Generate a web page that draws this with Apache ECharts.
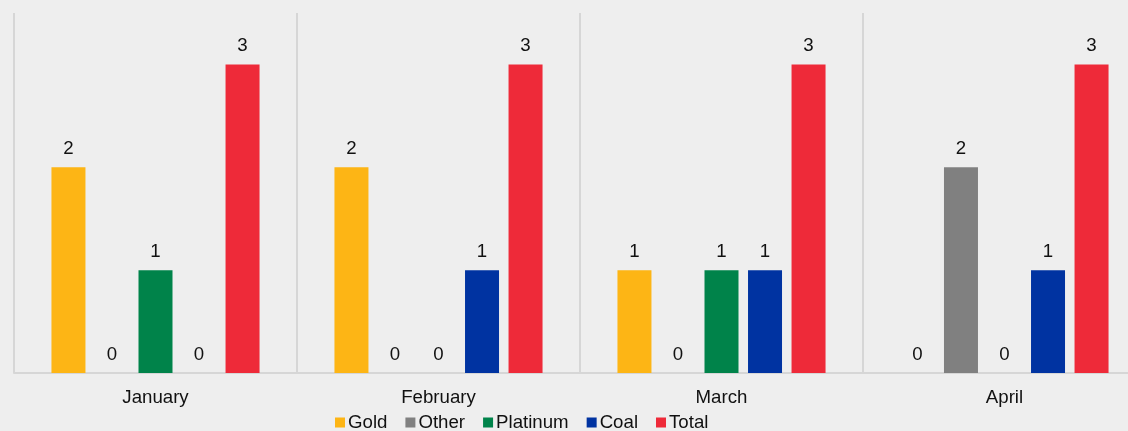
<!DOCTYPE html>
<html>
<head>
<meta charset="utf-8">
<script src="https://cdn.jsdelivr.net/npm/echarts@6/dist/echarts.min.js"></script>
<style>
html,body{margin:0;padding:0;background:#eeeeee;}
#c{width:1128px;height:431px;}
</style>
</head>
<body>
<div id="c"></div>
<script>
var categories = ['January', 'February', 'March', 'April'];
var seriesNames = ['Gold', 'Other', 'Platinum', 'Coal', 'Total'];
var gold = [2, 2, 1, 0];
var other = [0, 0, 0, 2];
var platinum = [1, 0, 1, 0];
var coal = [0, 1, 1, 1];
var total = [3, 3, 3, 3];
var colors = ['#FDB515', '#808080', '#00834A', '#0033A1', '#EE2A39'];

var dataSets = [gold, other, platinum, coal, total];
var chart = echarts.init(document.getElementById('c'));
chart.setOption({
  backgroundColor: '#eeeeee',
  animation: false,
  textStyle: { fontFamily: 'Liberation Sans, Arial, sans-serif' },
  legend: {
    data: seriesNames,
    left: 335, top: 413, padding: 0,
    itemWidth: 10, itemHeight: 10, itemGap: 18,
    icon: 'rect',
    textStyle: { fontSize: 18.67, color: '#111', padding: [0, 0, 0, -2] }
  },
  grid: { left: 14, top: 13, width: 1132, height: 360, outerBoundsMode: 'none', containLabel: false },
  xAxis: {
    type: 'category',
    data: categories,
    axisLine: { show: true, lineStyle: { color: '#d6d6d6', width: 2 } },
    axisTick: { show: false },
    axisLabel: { fontSize: 18.67, color: '#111', margin: 15 },
    splitLine: { show: true, interval: 0, lineStyle: { color: '#d6d6d6', width: 2 } }
  },
  yAxis: {
    type: 'value', min: 0, max: 3.5, show: false,
    splitLine: { show: false }
  },
  series: seriesNames.map(function (n, i) {
    return {
      name: n, type: 'bar', data: dataSets[i],
      barWidth: 34, barGap: '28%', barCategoryGap: '26.5%',
      itemStyle: { color: colors[i] },
      label: { show: true, position: 'top', distance: 9, fontSize: 18.67, color: '#111' }
    };
  })
});
</script>
</body>
</html>
